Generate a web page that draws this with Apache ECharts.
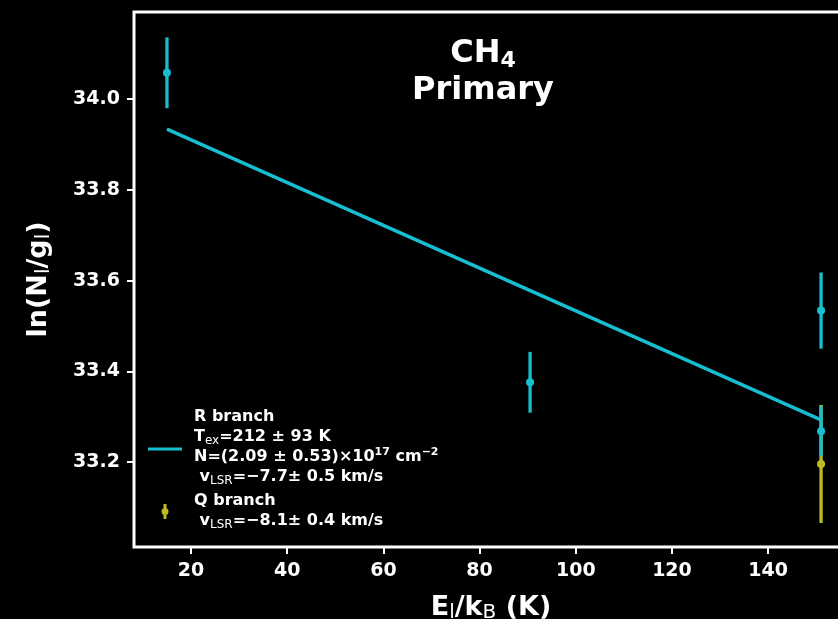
<!DOCTYPE html>
<html><head><meta charset="utf-8">
<script src="https://cdn.jsdelivr.net/npm/echarts@6/dist/echarts.min.js"></script>
<style>html,body{margin:0;padding:0;background:#000}#c{width:838px;height:619px}</style>
</head><body><div id="c"></div>
<script>
// R branch measured points
const rX = [15.0, 90.5, 151.0, 151.0];
const rY = [34.058, 33.376, 33.534, 33.268];
const rErr = [0.078, 0.067, 0.084, 0.055];
// Q branch measured points
const qX = [151.0];
const qY = [33.196];
const qErr = [0.130];
// R branch fit line
const fitX = [15.0, 151.0];
const fitY = [33.934, 33.293];
// tick labels
const xTicks = [20, 40, 60, 80, 100, 120, 140];
const yTicks = [33.2, 33.4, 33.6, 33.8, 34.0];

const CYAN = '#17becf', OLIVE = '#bcbd22';
const FONT = 'DejaVu Sans';

function errRender(color) {
  return function (params, api) {
    const x = api.value(0), y = api.value(1), e = api.value(2);
    const p0 = api.coord([x, y - e]), p1 = api.coord([x, y + e]), c = api.coord([x, y]);
    return {
      type: 'group', children: [
        { type: 'line', shape: { x1: p0[0], y1: p0[1], x2: p1[0], y2: p1[1] }, style: { stroke: color, lineWidth: 3.3 } },
        { type: 'circle', shape: { cx: c[0], cy: c[1], r: 4 }, style: { fill: color } }
      ]
    };
  };
}

const chart = echarts.init(document.getElementById('c'));
const baseText = { color: '#fff', fontFamily: FONT, fontWeight: 'bold' };
const subText = { color: '#fff', fontFamily: FONT, fontWeight: 'normal' };
chart.setOption({
  backgroundColor: '#000',
  animation: false,
  title: {
    left: 478, top: 30, textAlign: 'center',
    text: '{t|CH}{s|4}\n{t|Primary}',
    textStyle: {
      rich: {
        t: { ...baseText, fontSize: 32, lineHeight: 37 },
        s: { ...baseText, fontSize: 22, lineHeight: 22, verticalAlign: 'bottom' }
      }
    }
  },
  grid: { left: 134, top: 12, width: 714, height: 535, show: true, borderColor: '#fff', borderWidth: 3, containLabel: false, outerBoundsMode: 'none' },
  xAxis: {
    type: 'value', min: 8.15, max: 156.6,
    axisLine: { show: false }, splitLine: { show: false },
    axisTick: { show: true, customValues: xTicks, length: 7, lineStyle: { color: '#fff', width: 2 } },
    axisLabel: { customValues: xTicks, ...baseText, fontSize: 19, margin: 15, formatter: v => String(Math.round(v)) },
    name: '{a|E}{s|l}{a|/k}{s|B}{a| (K)}', nameLocation: 'middle', nameGap: 46,
    nameTextStyle: {
      rich: {
        a: { ...baseText, fontSize: 27, lineHeight: 30 },
        s: { ...subText, fontSize: 20, lineHeight: 12, verticalAlign: 'bottom' }
      }
    }
  },
  yAxis: {
    type: 'value', min: 33.013, max: 34.192,
    axisLine: { show: false }, splitLine: { show: false },
    axisTick: { show: true, customValues: yTicks, length: 7, lineStyle: { color: '#fff', width: 2 } },
    axisLabel: { customValues: yTicks, ...baseText, fontSize: 19, margin: 14, formatter: v => v.toFixed(1) },
    name: '{a|ln(N}{s|l}{a|/g}{s|l}{a|)}', nameLocation: 'middle', nameGap: 80, nameRotate: 90,
    nameTextStyle: {
      rich: {
        a: { ...baseText, fontSize: 27, lineHeight: 30 },
        s: { ...subText, fontSize: 20, lineHeight: 12, verticalAlign: 'bottom' }
      }
    }
  },
  legend: {
    left: 148, top: 409, orient: 'vertical', padding: 0, itemGap: 6,
    itemWidth: 34, itemHeight: 16,
    data: [
      { name: 'R branch', icon: 'path://M0,0 M34,16 M0,8.5 L34,8.5 L34,11.5 L0,11.5 Z', itemStyle: { color: CYAN } },
      { name: 'Q branch', icon: 'path://M0,0 M34,16 M15.5,1 L18.5,1 L18.5,16 L15.5,16 Z M13.5,8.5 A3.5,3.5 0 1,1 20.5,8.5 A3.5,3.5 0 1,1 13.5,8.5 Z', itemStyle: { color: OLIVE } }
    ],
    formatter: function (name) {
      if (name === 'R branch') {
        return '{b|R branch}\n{b|T}{s|ex}{b|=212 ± 93 K}\n{b|N=(2.09 ± 0.53)×10}{p|17}{b| cm}{p|−2}\n{b| v}{s|LSR}{b|=−7.7± 0.5 km/s}';
      }
      return '{b|Q branch}\n{b| v}{s|LSR}{b|=−8.1± 0.4 km/s}';
    },
    textStyle: {
      padding: [0, 0, 0, 7],
      rich: {
        b: { ...baseText, fontSize: 16, lineHeight: 20 },
        s: { ...subText, fontSize: 12, lineHeight: 6, verticalAlign: 'bottom' },
        p: { ...baseText, fontSize: 11, lineHeight: 11, verticalAlign: 'top' }
      }
    }
  },
  series: [
    {
      type: 'custom', name: 'Q branch', z: 2,
      encode: { x: 0, y: 1 },
      data: qX.map((x, i) => [x, qY[i], qErr[i]]),
      renderItem: errRender(OLIVE), itemStyle: { color: OLIVE }
    },
    {
      type: 'custom', name: 'R points', z: 3,
      encode: { x: 0, y: 1 },
      data: rX.map((x, i) => [x, rY[i], rErr[i]]),
      renderItem: errRender(CYAN), itemStyle: { color: CYAN }
    },
    {
      type: 'line', name: 'R branch', z: 4, symbol: 'none',
      data: fitX.map((x, i) => [x, fitY[i]]),
      lineStyle: { color: CYAN, width: 3.5 }, itemStyle: { color: CYAN }
    }
  ]
});
</script></body></html>
